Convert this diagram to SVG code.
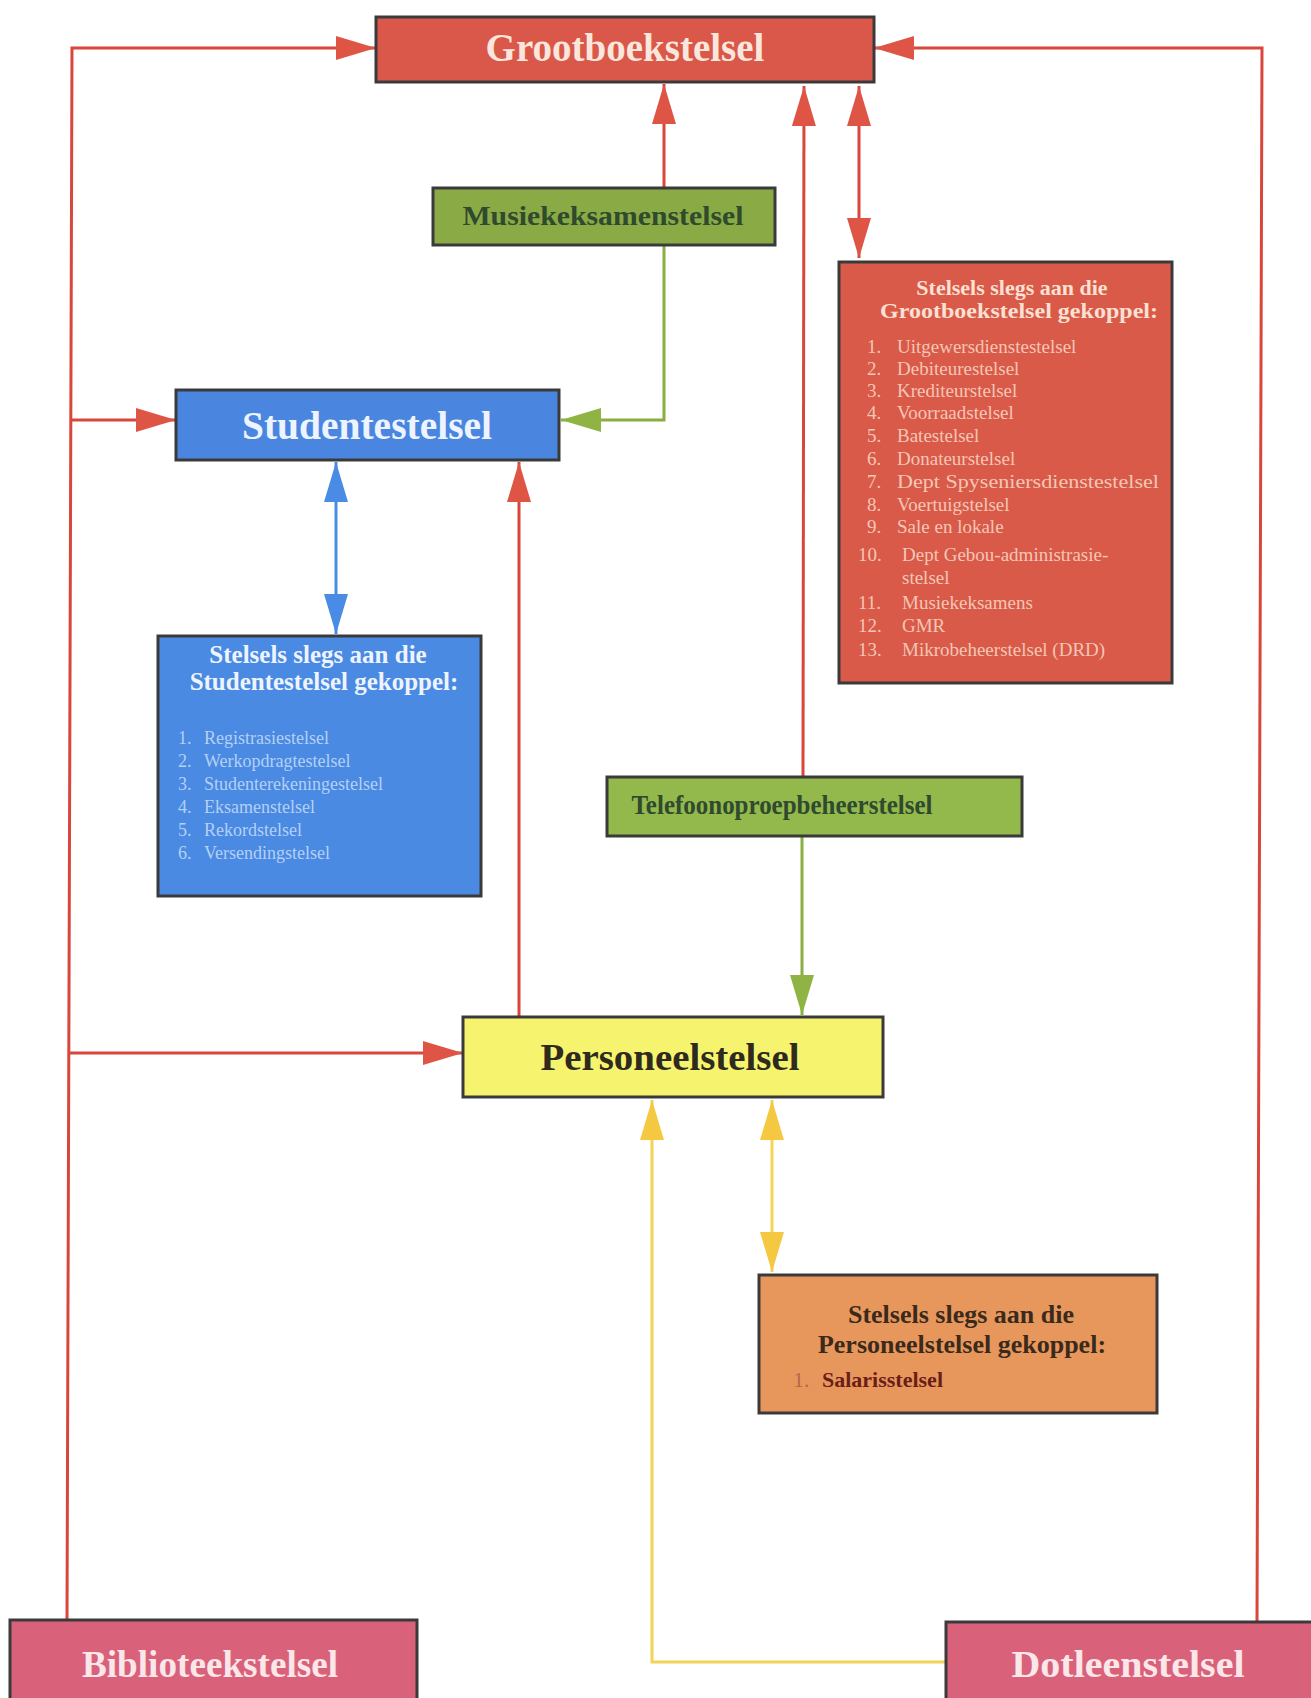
<svg xmlns="http://www.w3.org/2000/svg" width="1311" height="1698" viewBox="0 0 1311 1698">
<style>
  .box{stroke:#3a3a3a;stroke-width:3}
  .t{font-family:"Liberation Serif","Times New Roman",serif;font-weight:bold}
  .l{font-family:"Liberation Serif","Times New Roman",serif}
  .red{stroke:#d8463c;stroke-width:3;fill:none}
  .blue{stroke:#4a8be6;stroke-width:3;fill:none}
  .green{stroke:#8aae42;stroke-width:3;fill:none}
  .yellow{stroke:#f2d458;stroke-width:3;fill:none}
</style>
<defs>
  <marker id="ar" viewBox="0 0 40 24" refX="40" refY="12" markerWidth="40" markerHeight="24" markerUnits="userSpaceOnUse" orient="auto-start-reverse"><path d="M0,0 L40,12 L0,24 z" fill="#de5546"/></marker>
  <marker id="ab" viewBox="0 0 40 24" refX="40" refY="12" markerWidth="40" markerHeight="24" markerUnits="userSpaceOnUse" orient="auto-start-reverse"><path d="M0,0 L40,12 L0,24 z" fill="#4a8be6"/></marker>
  <marker id="ag" viewBox="0 0 40 24" refX="40" refY="12" markerWidth="40" markerHeight="24" markerUnits="userSpaceOnUse" orient="auto-start-reverse"><path d="M0,0 L40,12 L0,24 z" fill="#8fb444"/></marker>
  <marker id="ay" viewBox="0 0 40 24" refX="40" refY="12" markerWidth="40" markerHeight="24" markerUnits="userSpaceOnUse" orient="auto-start-reverse"><path d="M0,0 L40,12 L0,24 z" fill="#f5c842"/></marker>
</defs>
<rect width="1311" height="1698" fill="#ffffff"/>

<g id="connectors">
  <polyline class="red" points="67,1620 72,48 376,48" marker-end="url(#ar)"/>
  <line class="red" x1="70" y1="420" x2="176" y2="420" marker-end="url(#ar)"/>
  <line class="red" x1="68" y1="1053" x2="463" y2="1053" marker-end="url(#ar)"/>
  <polyline class="red" points="1257,1622 1262,48 874,48" marker-end="url(#ar)"/>
  <line class="red" x1="664" y1="188" x2="664" y2="84" marker-end="url(#ar)"/>
  <line class="red" x1="803" y1="777" x2="804" y2="86" marker-end="url(#ar)"/>
  <line class="red" x1="859" y1="86" x2="859" y2="258" marker-start="url(#ar)" marker-end="url(#ar)"/>
  <polyline class="green" points="664,245 664,420 561,420" marker-end="url(#ag)"/>
  <line class="blue" x1="336" y1="462" x2="336" y2="634" marker-start="url(#ab)" marker-end="url(#ab)"/>
  <line class="red" x1="519" y1="1017" x2="519" y2="462" marker-end="url(#ar)"/>
  <line class="green" x1="802" y1="837" x2="802" y2="1015" marker-end="url(#ag)"/>
  <line class="yellow" x1="772" y1="1100" x2="772" y2="1272" marker-start="url(#ay)" marker-end="url(#ay)"/>
  <polyline class="yellow" points="945,1662 652,1662 652,1100" marker-end="url(#ay)"/>
</g>

<g id="grootboek">
  <rect class="box" x="376" y="17" width="498" height="65" fill="#d9584a"/>
  <text class="t" x="625" y="61" font-size="39" fill="#fbe6dc" text-anchor="middle">Grootboekstelsel</text>
</g>

<g id="musiek">
  <rect class="box" x="433" y="188" width="342" height="57" fill="#8aaa46"/>
  <text class="t" x="603" y="225" font-size="27" fill="#2f4a2c" text-anchor="middle" textLength="281" lengthAdjust="spacingAndGlyphs">Musiekeksamenstelsel</text>
</g>

<g id="grootboek-lys">
  <rect class="box" x="839" y="262" width="333" height="421" fill="#d95a48"/>
  <text class="t" x="1012" y="295" font-size="22" fill="#fbe0d4" text-anchor="middle">Stelsels slegs aan die</text>
  <text class="t" x="1019" y="318" font-size="22" fill="#fbe0d4" text-anchor="middle" textLength="278" lengthAdjust="spacingAndGlyphs">Grootboekstelsel gekoppel:</text>
  <g class="l" font-size="19" fill="#f4c6b6">
    <text x="867" y="353">1.</text><text x="897" y="353">Uitgewersdienstestelsel</text>
    <text x="867" y="375">2.</text><text x="897" y="375">Debiteurestelsel</text>
    <text x="867" y="397">3.</text><text x="897" y="397">Krediteurstelsel</text>
    <text x="867" y="419">4.</text><text x="897" y="419">Voorraadstelsel</text>
    <text x="867" y="442">5.</text><text x="897" y="442">Batestelsel</text>
    <text x="867" y="465">6.</text><text x="897" y="465">Donateurstelsel</text>
    <text x="867" y="488">7.</text><text x="897" y="488" textLength="262" lengthAdjust="spacingAndGlyphs">Dept Spyseniersdienstestelsel</text>
    <text x="867" y="511">8.</text><text x="897" y="511">Voertuigstelsel</text>
    <text x="867" y="533">9.</text><text x="897" y="533">Sale en lokale</text>
    <text x="858" y="561">10.</text><text x="902" y="561">Dept Gebou-administrasie-</text>
    <text x="902" y="584">stelsel</text>
    <text x="858" y="609">11.</text><text x="902" y="609">Musiekeksamens</text>
    <text x="858" y="632">12.</text><text x="902" y="632">GMR</text>
    <text x="858" y="656">13.</text><text x="902" y="656">Mikrobeheerstelsel (DRD)</text>
  </g>
</g>

<g id="studente">
  <rect class="box" x="176" y="390" width="383" height="70" fill="#4a86e0"/>
  <text class="t" x="367" y="439" font-size="39" fill="#eef4ff" text-anchor="middle" textLength="250" lengthAdjust="spacingAndGlyphs">Studentestelsel</text>
</g>

<g id="studente-lys">
  <rect class="box" x="158" y="636" width="323" height="260" fill="#4a8ae2"/>
  <text class="t" x="318" y="663" font-size="25" fill="#eef4ff" text-anchor="middle">Stelsels slegs aan die</text>
  <text class="t" x="324" y="690" font-size="25" fill="#eef4ff" text-anchor="middle">Studentestelsel gekoppel:</text>
  <g class="l" font-size="18" fill="#b4d0f6">
    <text x="178" y="744">1.</text><text x="204" y="744">Registrasiestelsel</text>
    <text x="178" y="767">2.</text><text x="204" y="767">Werkopdragtestelsel</text>
    <text x="178" y="790">3.</text><text x="204" y="790">Studenterekeningestelsel</text>
    <text x="178" y="813">4.</text><text x="204" y="813">Eksamenstelsel</text>
    <text x="178" y="836">5.</text><text x="204" y="836">Rekordstelsel</text>
    <text x="178" y="859">6.</text><text x="204" y="859">Versendingstelsel</text>
  </g>
</g>

<g id="telefoon">
  <rect class="box" x="607" y="777" width="415" height="59" fill="#93b84c"/>
  <text class="t" x="782" y="814" font-size="28" fill="#2f4a2c" text-anchor="middle" textLength="301" lengthAdjust="spacingAndGlyphs">Telefoonoproepbeheerstelsel</text>
</g>

<g id="personeel">
  <rect class="box" x="463" y="1017" width="420" height="80" fill="#f6f46e"/>
  <text class="t" x="670" y="1070" font-size="38" fill="#2e2a1e" text-anchor="middle" textLength="259" lengthAdjust="spacingAndGlyphs">Personeelstelsel</text>
</g>

<g id="personeel-lys">
  <rect class="box" x="759" y="1275" width="398" height="138" fill="#e8975c"/>
  <text class="t" x="961" y="1323" font-size="26" fill="#3a2a1c" text-anchor="middle">Stelsels slegs aan die</text>
  <text class="t" x="962" y="1353" font-size="26" fill="#3a2a1c" text-anchor="middle">Personeelstelsel gekoppel:</text>
  <text class="l" x="793" y="1387" font-size="22" fill="#b06a4a">1.</text>
  <text class="t" x="822" y="1387" font-size="22" fill="#6a1e18">Salarisstelsel</text>
</g>

<g id="biblioteek">
  <rect class="box" x="10" y="1620" width="407" height="90" fill="#d9627a"/>
  <text class="t" x="210" y="1677" font-size="37" fill="#fbe6ea" text-anchor="middle" textLength="256" lengthAdjust="spacingAndGlyphs">Biblioteekstelsel</text>
</g>

<g id="dotleen">
  <rect class="box" x="946" y="1622" width="380" height="90" fill="#d9627a"/>
  <text class="t" x="1128" y="1677" font-size="37" fill="#fbe6ea" text-anchor="middle" textLength="233" lengthAdjust="spacingAndGlyphs">Dotleenstelsel</text>
</g>
</svg>
